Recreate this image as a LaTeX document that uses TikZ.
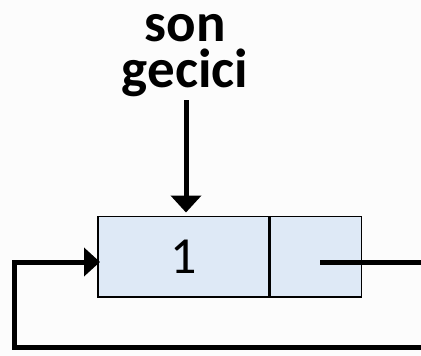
\documentclass[tikz,border=0pt]{standalone}
\usepackage{fontspec}
\setmainfont{Carlito}
\usetikzlibrary{arrows.meta}
\definecolor{bg}{RGB}{252,252,252}
\definecolor{cellfill}{RGB}{222,233,246}
\tikzset{
  cell/.style={draw=black, line width=1.5pt, fill=cellfill, minimum height=80.5pt, inner sep=0pt, font=\fontsize{52}{54}\selectfont},
  pointer/.style={line width=5pt},
  headline/.style={font=\bfseries\fontsize{55}{46}\selectfont, align=center, inner sep=0pt}
}
\begin{document}
\begin{tikzpicture}[x=1pt,y=-1pt]
\fill[bg] (0,0) rectangle (421,356);
\useasboundingbox (0,0) rectangle (421,356);
\node[cell, minimum width=171pt] (c1) at (183.5,256.75) {1};
\node[cell, minimum width=91pt, anchor=west] (c2) at (c1.east) {};
\node[headline, anchor=north] (lbl) at (185,14.5) {son\\gecici};
\coordinate (top) at (186,100);
\coordinate (p) at (320,262);
\coordinate (rt) at (423,262);
\coordinate (rb) at (423,347);
\coordinate (lb) at (14,347);
\coordinate (lt) at (14,262);
\coordinate (tip) at (100,262);
\draw[pointer, -{Triangle[width=30pt,length=17pt]}] (top) -- (186,212.5);
\draw[pointer, line join=miter, -{Triangle[width=28pt,length=16pt]}] (p) -- (rt) -- (rb) -- (lb) -- (lt) -- (tip);
\end{tikzpicture}
\end{document}
